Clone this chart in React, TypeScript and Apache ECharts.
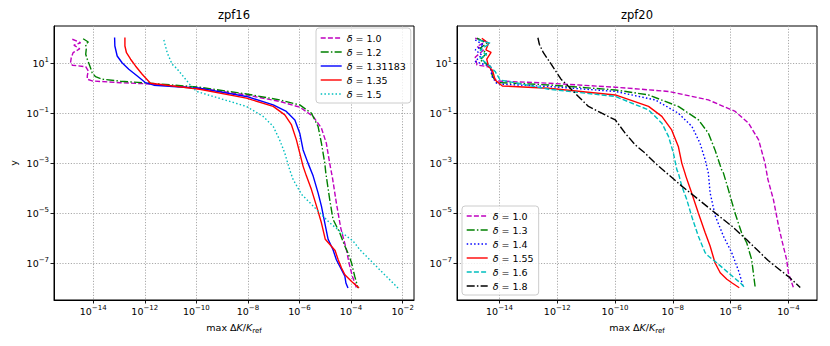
import React, { useEffect, useRef } from 'react';
import * as echarts from 'echarts';

const FONT = 'DejaVu Sans';

// ---------- data: log10 of x (max ΔK/K_ref) and log10 of y ----------
// zpf16
const z16_d100_lx = [-14.81, -14.49, -14.75, -14.52, -14.78, -14.85, -14.88, -14.81, -14.29, -14.19, -14.23, -14.23, -14.04, -12.94, -11.8, -9.87, -8.06, -6.77, -5.99, -5.47, -5.15, -4.96, -4.83, -4.72, -4.57, -4.4, -4.18, -4.08, -3.95, -3.79];
const z16_d100_ly = [1.96, 1.82, 1.72, 1.58, 1.42, 1.22, 1.02, 0.92, 0.86, 0.69, 0.49, 0.36, 0.29, 0.22, 0.17, 0.0, -0.27, -0.53, -0.76, -1.13, -1.6, -2.2, -3.0, -3.6, -4.6, -5.6, -6.47, -7.0, -7.53, -8.0];
const z16_d120_lx = [-14.39, -14.19, -14.29, -14.27, -14.29, -14.23, -14.13, -14.04, -13.91, -13.65, -12.94, -11.8, -9.87, -8.06, -6.77, -5.99, -5.54, -5.28, -5.15, -5.02, -4.98, -4.83, -4.7, -4.44, -4.25, -4.12, -3.98, -3.86, -3.73];
const z16_d120_ly = [1.98, 1.85, 1.76, 1.56, 1.36, 1.16, 0.89, 0.62, 0.46, 0.36, 0.28, 0.2, 0.04, -0.23, -0.47, -0.67, -1.0, -1.53, -2.2, -3.0, -3.39, -4.45, -5.25, -5.79, -6.3, -6.6, -7.0, -7.53, -8.0];
const z16_d131_lx = [-13.17, -13.16, -13.07, -12.88, -12.62, -12.29, -11.97, -11.65, -9.87, -8.06, -7.02, -6.51, -6.18, -5.99, -5.86, -5.67, -5.47, -5.28, -5.15, -5.02, -4.89, -4.7, -4.57, -4.37, -4.24, -4.2, -4.12];
const z16_d131_ly = [2.03, 1.69, 1.29, 1.02, 0.76, 0.49, 0.22, 0.12, 0.0, -0.33, -0.67, -0.93, -1.27, -1.8, -2.47, -3.0, -3.52, -4.19, -4.72, -5.39, -6.05, -6.47, -6.87, -7.27, -7.53, -7.8, -8.0];
const z16_d135_lx = [-12.77, -12.77, -12.71, -12.55, -12.36, -12.1, -11.78, -9.87, -8.06, -7.02, -6.57, -6.31, -6.12, -5.99, -5.86, -5.73, -5.54, -5.34, -5.15, -5.0, -4.62, -4.5, -4.37, -4.24, -3.98, -3.69];
const z16_d135_ly = [2.03, 1.69, 1.42, 1.16, 0.89, 0.56, 0.2, -0.04, -0.4, -0.73, -1.07, -1.47, -2.07, -2.6, -3.13, -3.52, -4.05, -4.72, -5.39, -6.05, -6.5, -6.87, -7.2, -7.47, -7.74, -8.0];
const z16_d150_lx = [-11.26, -11.13, -10.94, -10.77, -10.45, -10.19, -9.99, -8.06, -7.41, -7.02, -6.77, -6.57, -6.38, -6.25, -5.92, -5.47, -4.83, -4.44, -3.92, -3.66, -3.27, -2.89, -2.5, -2.18];
const z16_d150_ly = [1.93, 1.42, 0.96, 0.8, 0.4, 0.07, -0.13, -0.73, -1.13, -1.53, -2.07, -2.6, -3.27, -3.65, -4.25, -4.72, -5.39, -5.72, -6.12, -6.47, -6.87, -7.27, -7.67, -8.0];

// zpf20
const z20_d100_lx = [-14.84, -14.47, -14.78, -14.55, -14.84, -14.78, -14.29, -14.24, -14.09, -12.3, -9.99, -8.15, -6.77, -5.84, -5.38, -5.03, -4.81, -4.71, -4.52, -4.34, -4.23, -4.06, -4.0, -3.83];
const z20_d100_ly = [2.0, 1.87, 1.67, 1.53, 1.24, 0.93, 0.84, 0.47, 0.29, 0.2, 0.04, -0.13, -0.47, -0.93, -1.4, -2.07, -3.0, -3.65, -4.45, -5.52, -6.07, -6.87, -7.4, -7.97];
const z20_d130_lx = [-14.78, -14.44, -14.67, -14.44, -14.67, -14.32, -14.24, -14.09, -12.3, -9.99, -8.84, -7.81, -7.11, -6.77, -6.54, -6.31, -6.25, -6.08, -5.85, -5.62, -5.44, -5.27, -5.15];
const z20_d130_ly = [2.0, 1.8, 1.6, 1.4, 1.13, 0.87, 0.47, 0.23, 0.13, -0.07, -0.27, -0.73, -1.27, -1.8, -2.47, -3.27, -3.39, -4.05, -4.99, -5.79, -6.2, -6.87, -7.97];
const z20_d140_lx = [-14.84, -14.55, -14.84, -14.61, -14.84, -14.32, -14.26, -14.09, -12.3, -9.99, -8.61, -7.81, -7.34, -7.06, -6.88, -6.77, -6.71, -6.53, -6.25, -5.96, -5.7, -5.56];
const z20_d140_ly = [1.93, 1.73, 1.53, 1.33, 1.07, 0.87, 0.47, 0.17, 0.07, -0.13, -0.47, -1.0, -1.53, -2.2, -2.87, -3.4, -4.19, -5.12, -5.92, -6.59, -7.39, -7.99];
const z20_d155_lx = [-14.61, -14.38, -14.47, -14.29, -14.44, -14.38, -14.24, -14.15, -13.9, -12.3, -9.99, -8.84, -8.38, -8.04, -7.81, -7.69, -7.58, -7.55, -7.35, -7.12, -6.88, -6.71, -6.54, -6.36, -6.13, -5.96, -5.7];
const z20_d155_ly = [2.0, 1.8, 1.53, 1.43, 1.16, 0.87, 0.71, 0.33, 0.09, 0.0, -0.27, -0.73, -1.13, -1.67, -2.33, -3.0, -3.4, -3.52, -4.19, -4.99, -5.79, -6.32, -6.99, -7.39, -7.65, -7.79, -7.99];
const z20_d160_lx = [-14.73, -14.32, -14.67, -14.44, -14.67, -14.38, -14.15, -13.98, -12.3, -9.99, -8.84, -8.38, -8.15, -7.98, -7.86, -7.81, -7.69, -7.52, -7.35, -7.12, -6.88, -6.77, -6.48, -6.08, -5.67, -5.5];
const z20_d160_ly = [1.93, 1.8, 1.53, 1.33, 1.2, 0.93, 0.67, 0.33, -0.04, -0.33, -0.87, -1.4, -1.93, -2.6, -3.27, -3.39, -3.92, -4.45, -5.12, -5.92, -6.59, -6.72, -6.99, -7.39, -7.79, -7.99];
const z20_d180_lx = [-12.67, -12.62, -12.48, -12.21, -11.87, -11.61, -11.27, -10.92, -10.46, -9.99, -9.65, -9.3, -8.96, -8.61, -8.21, -7.69, -7.12, -6.54, -5.96, -5.45, -4.7, -3.94, -3.59];
const z20_d180_ly = [2.02, 1.76, 1.42, 0.96, 0.36, 0.07, -0.33, -0.73, -1.0, -1.27, -1.8, -2.27, -2.6, -3.0, -3.4, -3.92, -4.45, -4.99, -5.52, -6.06, -6.9, -7.6, -7.98];

// ticks
const z16_xticks = [1e-14, 1e-12, 1e-10, 1e-8, 1e-6, 1e-4, 1e-2];
const z20_xticks = [1e-14, 1e-12, 1e-10, 1e-8, 1e-6, 1e-4];
const y_ticks = [1e1, 1e-1, 1e-3, 1e-5, 1e-7];

// axis ranges (log10)
const z16_xrange = [-15.52, -1.56];
const z20_xrange = [-15.47, -3.01];
const y_range = [-8.48, 2.49];

const titles = ['zpf16', 'zpf20'];
const z16_deltas = ['1.0', '1.2', '1.31183', '1.35', '1.5'];
const z20_deltas = ['1.0', '1.3', '1.4', '1.55', '1.6', '1.8'];

const DASHED = [5, 2.2];
const DASHDOT = [8, 2.2, 1.5, 2.2];
const DOTTED = [1.5, 2.2];

const z16_curves = [
  { lx: z16_d100_lx, ly: z16_d100_ly, color: '#bf00bf', type: DASHED },
  { lx: z16_d120_lx, ly: z16_d120_ly, color: '#008000', type: DASHDOT },
  { lx: z16_d131_lx, ly: z16_d131_ly, color: '#0000ff', type: 'solid' },
  { lx: z16_d135_lx, ly: z16_d135_ly, color: '#ff0000', type: 'solid' },
  { lx: z16_d150_lx, ly: z16_d150_ly, color: '#00bfbf', type: DOTTED },
];
const z20_curves = [
  { lx: z20_d100_lx, ly: z20_d100_ly, color: '#bf00bf', type: DASHED },
  { lx: z20_d130_lx, ly: z20_d130_ly, color: '#008000', type: DASHDOT },
  { lx: z20_d140_lx, ly: z20_d140_ly, color: '#0000ff', type: DOTTED },
  { lx: z20_d155_lx, ly: z20_d155_ly, color: '#ff0000', type: 'solid' },
  { lx: z20_d160_lx, ly: z20_d160_ly, color: '#00bfbf', type: DASHED },
  { lx: z20_d180_lx, ly: z20_d180_ly, color: '#000000', type: DASHDOT },
];

const supLabel = (v: number) => {
  const e = Math.round(Math.log10(v));
  return `{b|10}{s|${e < 0 ? '\u2212' + -e : String(e)}}`;
};
const labelRich = {
  b: { fontSize: 9.5, fontFamily: FONT, color: '#000', lineHeight: 14 },
  s: { fontSize: 7, fontFamily: FONT, color: '#000', lineHeight: 9, verticalAlign: 'top' },
};

export default function App() {
  const ref = useRef<HTMLDivElement>(null);
  useEffect(() => {
    if (!ref.current) return;
    const chart = echarts.init(ref.current, null, { renderer: 'svg' });
    const grids = [
      { left: 54, top: 26, width: 360, height: 274 },
      { left: 457, top: 26, width: 360, height: 274 },
    ].map((g) => ({ ...g, show: true, borderColor: '#000', borderWidth: 1, backgroundColor: 'transparent' }));

    const splitLine = { show: true, lineStyle: { color: '#a0a0a0', width: 0.9, type: [1.2, 1.6] } };

    const mkX = (gi: number, range: number[], ticks: number[]) => ({
      type: 'log',
      logBase: 10,
      gridIndex: gi,
      min: Math.pow(10, range[0]),
      max: Math.pow(10, range[1]),
      name: 'max Δ{i|K}/{i|K}{sub|ref}',
      nameLocation: 'middle',
      nameGap: 18,
      nameTextStyle: {
        fontSize: 9.5,
        fontFamily: FONT,
        color: '#000',
        lineHeight: 14,
        rich: {
          i: { fontStyle: 'italic', fontSize: 9.5, fontFamily: FONT, color: '#000', lineHeight: 14 },
          sub: { fontSize: 7, fontFamily: FONT, color: '#000', lineHeight: 9, verticalAlign: 'bottom' },
        },
      },
      axisLine: { show: true, onZero: false, lineStyle: { color: '#000', width: 1 } },
      axisTick: { show: true, customValues: ticks, length: 3.5, lineStyle: { color: '#000', width: 0.9 } },
      axisLabel: { show: true, customValues: ticks, formatter: supLabel, margin: 4, rich: labelRich },
      splitLine,
      minorTick: { show: false },
    });
    const mkY = (gi: number, withName: boolean) => ({
      type: 'log',
      logBase: 10,
      gridIndex: gi,
      min: Math.pow(10, y_range[0]),
      max: Math.pow(10, y_range[1]),
      name: withName ? 'y' : '',
      nameLocation: 'middle',
      nameGap: 36,
      nameTextStyle: { fontSize: 9.5, fontFamily: FONT, color: '#000' },
      axisLine: { show: true, onZero: false, lineStyle: { color: '#000', width: 1 } },
      axisTick: { show: true, customValues: y_ticks, length: 3.5, lineStyle: { color: '#000', width: 0.9 } },
      axisLabel: { show: true, customValues: y_ticks, formatter: supLabel, margin: 5, rich: labelRich },
      splitLine,
      minorTick: { show: false },
    });

    const series: any[] = [];
    const addSeries = (curves: any[], deltas: string[], prefix: string, gi: number) => {
      curves.forEach((c, i) => {
        series.push({
          type: 'line',
          name: prefix + deltas[i],
          xAxisIndex: gi,
          yAxisIndex: gi,
          symbol: 'none',
          showSymbol: false,
          smooth: false,
          clip: true,
          lineStyle: { color: c.color, width: 1.4, type: c.type },
          itemStyle: { color: c.color },
          data: c.lx.map((v: number, k: number) => [Math.pow(10, v), Math.pow(10, c.ly[k])]),
        });
      });
    };
    addSeries(z16_curves, z16_deltas, 'a:', 0);
    addSeries(z20_curves, z20_deltas, 'b:', 1);

    const legendBase = {
      orient: 'vertical',
      itemWidth: 21,
      itemHeight: 8,
      itemGap: 2,
      padding: [4, 5, 3, 4],
      borderColor: '#cccccc',
      borderWidth: 1,
      borderRadius: 3,
      backgroundColor: 'rgba(255,255,255,0.8)',
      selectedMode: false,
      itemStyle: { opacity: 0, borderWidth: 0 },
      lineStyle: { width: 1.4 },
      formatter: (name: string) => `{i|δ} = ${name.slice(2)}`,
      textStyle: {
        fontSize: 9.5,
        fontFamily: FONT,
        color: '#000',
        lineHeight: 12,
        rich: { i: { fontStyle: 'italic', fontSize: 9.5, fontFamily: FONT, color: '#000', lineHeight: 12 } },
      },
    };

    chart.setOption({
      animation: false,
      backgroundColor: '#fff',
      title: titles.map((t, i) => ({
        text: t,
        left: i === 0 ? 234 : 637,
        top: 9,
        textAlign: 'center',
        padding: 0,
        textStyle: { fontSize: 11.5, fontFamily: FONT, fontWeight: 'normal', color: '#000' },
      })),
      grid: grids,
      xAxis: [mkX(0, z16_xrange, z16_xticks), mkX(1, z20_xrange, z20_xticks)],
      yAxis: [mkY(0, true), mkY(1, false)],
      legend: [
        { ...legendBase, left: 316, top: 28, data: z16_deltas.map((d) => 'a:' + d) },
        { ...legendBase, left: 462, top: 206, data: z20_deltas.map((d) => 'b:' + d) },
      ],
      series,
    });
    return () => chart.dispose();
  }, []);
  return <div ref={ref} style={{ position: 'absolute', left: 0, top: 0, width: 830, height: 346 }} />;
}
